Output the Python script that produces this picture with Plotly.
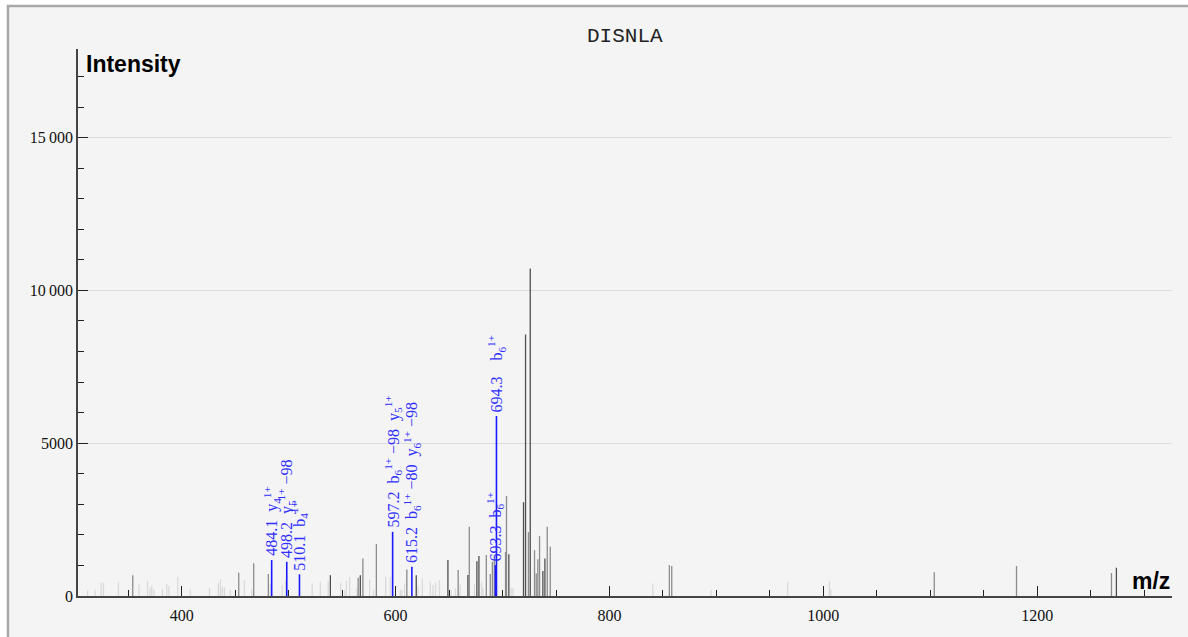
import plotly.graph_objects as go

title_text = "DISNLA"

light_mz = [312, 319, 324.6, 326.8, 340.8, 360, 368, 370.4, 372, 374, 382, 386, 388, 396.3,
            408, 426, 434.3, 436.2, 438, 440, 445.5, 458.6, 465.4, 482.9, 494, 497.2, 522,
            529.6, 537, 548.6, 552.3, 554, 557, 563.9, 575.7, 579.4, 590.7, 595, 604.4, 606,
            608.4, 620.8, 625, 632.4, 635, 637.4, 641, 652, 656, 660.3, 673.8, 680.4, 681.6,
            708.1, 709.7, 840.5, 895, 966.6, 1005.6, 1007]
light_int = [190, 210, 430, 440, 460, 380, 490, 280, 350, 210, 230, 400, 330, 620,
             210, 260, 420, 540, 300, 270, 210, 520, 220, 410, 360, 490, 410,
             470, 490, 430, 200, 500, 630, 260, 540, 200, 630, 610, 200, 210,
             410, 300, 570, 470, 360, 430, 520, 200, 250, 380, 390, 470, 270,
             250, 250, 410, 200, 450, 490, 230]

medium_mz = [354.2, 453.3, 467.3, 481, 565, 569.4, 582, 610.5, 658.5, 668.9, 684.8, 688.5,
             690.5, 692.3, 702.8, 703.7, 724.2, 729.9, 731.5, 733, 734.6, 741.8, 744.6,
             856, 858.2, 1103.7, 1180.6, 1269.4]
medium_int = [680, 760, 1070, 720, 600, 1230, 1700, 870, 850, 2265, 1340, 720,
              1120, 1350, 1440, 3270, 2090, 1500, 740, 1200, 1960, 2265, 1610,
              1010, 980, 775, 980, 750]

dark_mz = [539, 567, 619.3, 648.9, 667.6, 676, 677.9, 705.9, 719.6, 721.5, 725.9,
           737.7, 739.6, 1274]
dark_int = [680, 680, 680, 1180, 690, 1140, 1310, 1370, 3070, 8560, 10720,
            820, 1230, 925]

matched_mz = [484.1, 498.2, 510.1, 597.2, 615.2, 693.3, 694.3]
matched_int = [1176, 1120, 710, 2100, 960, 1010, 5890]
matched_labels = [
    "484.1\u00a0\u00a0y<sub>4</sub><sup>1+</sup>",
    "498.2\u00a0\u00a0y<sub>5</sub><sup>1+</sup>\u00a0\u221298",
    "510.1\u00a0\u00a0b<sub>4</sub><sup>1+</sup>",
    "597.2\u00a0\u00a0b<sub>6</sub><sup>1+</sup>\u00a0\u221298\u00a0\u00a0y<sub>5</sub><sup>1+</sup>",
    "615.2\u00a0\u00a0b<sub>6</sub><sup>1+</sup>\u00a0\u221280\u00a0\u00a0y<sub>6</sub><sup>1+</sup>\u00a0\u221298",
    "693.3\u00a0\u00a0b<sub>6</sub><sup>1+</sup>",
    "694.3\u00a0\u00a0\u00a0\u00a0b<sub>6</sub><sup>1+</sup>",
]

y_tick_vals = [0, 5000, 10000, 15000]
y_tick_text = ["0", "5000", "10\u2009000", "15\u2009000"]
x_range = [303, 1326]
y_range = [0, 17900]


def stems(mz, inten):
    xs, ys = [], []
    for m, v in zip(mz, inten):
        xs += [m, m, None]
        ys += [0, v, None]
    return xs, ys


fig = go.Figure()
for mz, inten, color, w in [
    (light_mz, light_int, "#dadada", 1.3),
    (medium_mz, medium_int, "#8c8c8c", 1.3),
    (dark_mz, dark_int, "#505050", 1.3),
    (matched_mz, matched_int, "#1a1aff", 1.6),
]:
    xs, ys = stems(mz, inten)
    fig.add_trace(go.Scatter(x=xs, y=ys, mode="lines",
                             line=dict(color=color, width=w),
                             hoverinfo="skip", showlegend=False))

annotations = []
for m, v, t in zip(matched_mz, matched_int, matched_labels):
    annotations.append(dict(x=m, y=v, text=t, textangle=-90, showarrow=False,
                            xanchor="center", yanchor="bottom", yshift=2,
                            font=dict(family="Liberation Serif", size=16, color="#2f2fff")))

annotations += [
    dict(x=0.5, y=1, xref="paper", yref="paper", text=title_text, showarrow=False,
         xanchor="center", yanchor="bottom", yshift=-1,
         font=dict(family="Liberation Mono", size=21, color="#222")),
    dict(x=0, y=1, xref="paper", yref="paper", text="<b>Intensity</b>", showarrow=False,
         xanchor="left", yanchor="top", xshift=6, yshift=0,
         font=dict(family="Liberation Sans", size=23, color="#000")),
    dict(x=1, y=0, xref="paper", yref="paper", text="<b>m/z</b>", showarrow=False,
         xanchor="right", yanchor="bottom", xshift=0, yshift=0,
         font=dict(family="Liberation Sans", size=23, color="#000")),
]

fig.update_layout(
    width=1188, height=637,
    margin=dict(l=78, r=16, t=49, b=41),
    paper_bgcolor="white",
    plot_bgcolor="#f4f4f4",
    annotations=annotations,
    shapes=[dict(type="rect", xref="paper", yref="paper",
                 x0=-0.064, x1=1.03, y0=-0.12, y1=1.0786,
                 fillcolor="#f4f4f4", line=dict(color="#a8a8a8", width=2.5),
                 layer="below")],
    xaxis=dict(range=x_range, showgrid=False, zeroline=False,
               showline=True, linecolor="#444", linewidth=1.5,
               tick0=0, dtick=200, ticks="inside", ticklen=10, tickcolor="#222",
               tickfont=dict(family="Liberation Serif", size=16, color="#111"),
               minor=dict(dtick=50, ticks="inside", ticklen=6, tickcolor="#222"),
               ticklabelstandoff=4),
    yaxis=dict(range=y_range, showgrid=True, gridcolor="#dcdcdc", gridwidth=1,
               zeroline=False, showline=True, linecolor="#444", linewidth=1.5,
               tickmode="array", tickvals=y_tick_vals, ticktext=y_tick_text,
               ticks="inside", ticklen=10, tickcolor="#222",
               tickfont=dict(family="Liberation Serif", size=16, color="#111"),
               minor=dict(dtick=1000, ticks="inside", ticklen=6, tickcolor="#222",
                          showgrid=False)),
)

fig.write_html("out.html", config={"displayModeBar": False},
               post_script="document.body.style.margin='0';")
